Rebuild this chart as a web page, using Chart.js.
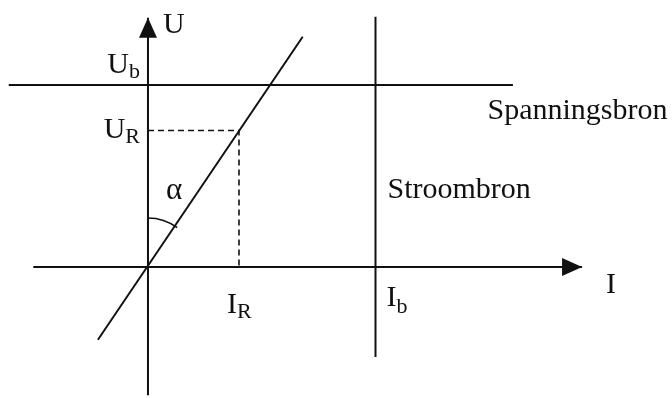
<!DOCTYPE html>
<html>
<head>
<meta charset="utf-8">
<script src="https://cdn.jsdelivr.net/npm/chart.js@4"></script>
<style>
  html, body { margin: 0; padding: 0; background: #fff; }
  #wrap { position: relative; width: 672px; height: 398px; }
</style>
</head>
<body>
<div id="wrap"><canvas id="c"></canvas></div>
<script>
// Values in diagram units (I horizontal, U vertical)
const I_R = 1.0;
const I_B = 2.5;
const U_R = 1.5;
const U_B = 2.0;

const iAxis = [{ x: -1.26, y: 0 }, { x: 4.77, y: 0 }];
const uAxis = [{ x: 0, y: -1.41 }, { x: 0, y: 2.74 }];
const voltageSource = [{ x: -1.53, y: U_B }, { x: 4.01, y: U_B }];   // Spanningsbron
const currentSource = [{ x: I_B, y: -0.99 }, { x: I_B, y: 2.75 }];   // Stroombron
const resistorLine = [{ x: -0.55, y: -0.80 }, { x: 1.70, y: 2.53 }];
const operatingPoint = [{ x: 0, y: U_R }, { x: I_R, y: U_R }, { x: I_R, y: 0 }];

const uTicks = [U_B, U_R];
const uTickLabels = [['U', 'b'], ['U', 'R']];
const iTicks = [I_R, I_B];
const iTickLabels = [['I', 'R'], ['I', 'b']];
const axisNames = ['I', 'U'];
const regionLabels = ['Spanningsbron', 'Stroombron'];
const angleLabel = 'α';

const INK = '#111';
const FONT = '"Liberation Serif", "DejaVu Serif", serif';

function line(data, extra) {
  return Object.assign({
    data,
    showLine: true,
    borderColor: INK,
    borderWidth: 2,
    pointRadius: 0,
    fill: false,
  }, extra || {});
}

// filled arrow heads at the end of the axes
const arrowHeads = {
  id: 'arrowHeads',
  afterDatasetsDraw(chart) {
    const ctx = chart.ctx;
    chart.data.datasets.forEach((ds, i) => {
      if (!ds.arrow) return;
      const pts = chart.getDatasetMeta(i).data;
      const a = pts[pts.length - 2], b = pts[pts.length - 1];
      const ang = Math.atan2(b.y - a.y, b.x - a.x);
      const len = 20, half = 9;
      ctx.save();
      ctx.translate(b.x, b.y);
      ctx.rotate(ang);
      ctx.beginPath();
      ctx.moveTo(0, 0);
      ctx.lineTo(-len, -half);
      ctx.lineTo(-len, half);
      ctx.closePath();
      ctx.fillStyle = INK;
      ctx.fill();
      ctx.restore();
    });
  }
};

function subText(ctx, main, sub, x, y, align, subDy) {
  ctx.font = '30px ' + FONT;
  const wm = ctx.measureText(main).width;
  ctx.font = '22px ' + FONT;
  const ws = ctx.measureText(sub).width;
  const left = align === 'right' ? x - wm - ws : x;
  ctx.font = '30px ' + FONT;
  ctx.fillText(main, left, y);
  ctx.font = '22px ' + FONT;
  ctx.fillText(sub, left + wm, y + subDy);
}

// labels, angle arc
const annotations = {
  id: 'annotations',
  afterDraw(chart) {
    const { ctx, scales: { x, y } } = chart;
    const ox = x.getPixelForValue(0), oy = y.getPixelForValue(0);
    ctx.save();
    ctx.fillStyle = INK;
    ctx.strokeStyle = INK;
    ctx.textBaseline = 'alphabetic';

    // U ticks
    subText(ctx, uTickLabels[0][0], uTickLabels[0][1], ox - 8, y.getPixelForValue(uTicks[0]) - 12, 'right', 5);
    subText(ctx, uTickLabels[1][0], uTickLabels[1][1], ox - 8, y.getPixelForValue(uTicks[1]) + 8, 'right', 5);
    // I ticks
    subText(ctx, iTickLabels[0][0], iTickLabels[0][1], x.getPixelForValue(iTicks[0]) - 12, oy + 46, 'left', 5);
    subText(ctx, iTickLabels[1][0], iTickLabels[1][1], x.getPixelForValue(iTicks[1]) + 11, oy + 39, 'left', 7);

    ctx.font = '30px ' + FONT;
    // axis names
    ctx.fillText(axisNames[1], ox + 15, y.getPixelForValue(uAxis[1].y) + 15);
    ctx.fillText(axisNames[0], x.getPixelForValue(iAxis[1].x) + 24, oy + 26);
    // regions
    ctx.fillText(regionLabels[0], x.getPixelForValue(I_B) + 112, y.getPixelForValue(U_B) + 34);
    ctx.fillText(regionLabels[1], x.getPixelForValue(I_B) + 12, oy - 69);

    // angle alpha between U axis and resistor line
    const r = 49;
    ctx.lineWidth = 1.6;
    ctx.beginPath();
    ctx.arc(ox, oy, r, -Math.PI / 2, -Math.PI / 2 + 0.64);
    ctx.stroke();
    ctx.font = '31px ' + FONT;
    ctx.fillText(angleLabel, ox + 18, oy - 68);
    ctx.restore();
  }
};

new Chart(document.getElementById('c'), {
  type: 'scatter',
  data: {
    datasets: [
      line(iAxis, { arrow: true }),
      line(uAxis, { arrow: true }),
      line(voltageSource),
      line(currentSource),
      line(resistorLine),
      line(operatingPoint, { borderWidth: 1.6, borderDash: [6, 4] }),
    ]
  },
  options: {
    responsive: true,
    maintainAspectRatio: false,
    animation: false,
    layout: { padding: 0 },
    plugins: {
      legend: { display: false },
      tooltip: { enabled: false },
    },
    scales: {
      x: { type: 'linear', display: false, min: -1.626, max: 5.758 },
      y: { type: 'linear', display: false, min: -1.44, max: 2.934 },
    }
  },
  plugins: [arrowHeads, annotations]
});
</script>
</body>
</html>
